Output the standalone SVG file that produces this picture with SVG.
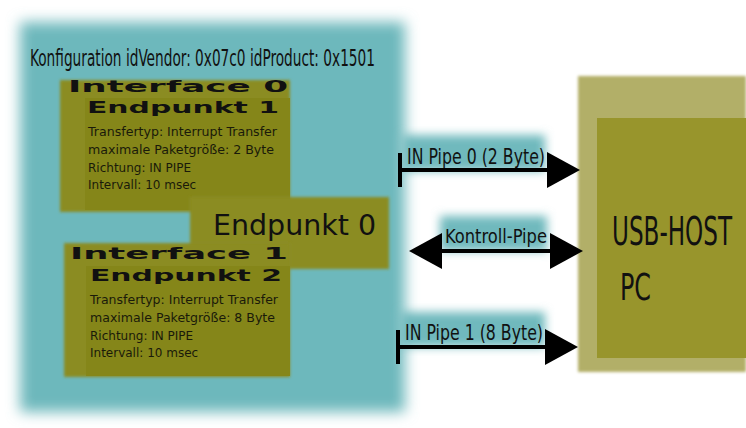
<svg xmlns="http://www.w3.org/2000/svg" width="746" height="428" viewBox="0 0 746 428">
  <defs>
    <filter id="bigBlur" x="-10%" y="-10%" width="120%" height="120%">
      <feGaussianBlur stdDeviation="7"/>
    </filter>
    <filter id="softBlur" x="-5%" y="-5%" width="110%" height="110%">
      <feGaussianBlur stdDeviation="1.5"/>
    </filter>
    <filter id="glow" x="-20%" y="-40%" width="140%" height="180%">
      <feGaussianBlur stdDeviation="5"/>
    </filter>
    <marker id="arrowHead" markerUnits="userSpaceOnUse" markerWidth="34" markerHeight="38" refX="0" refY="18" orient="auto-start-reverse" overflow="visible">
      <path d="M0,0 L33,18 L0,36 Z" fill="#000"/>
    </marker>
    <marker id="bar" markerUnits="userSpaceOnUse" markerWidth="6" markerHeight="36" refX="0" refY="17" orient="auto" overflow="visible">
      <rect x="-2" y="0" width="4" height="34" fill="#000"/>
    </marker>
  </defs>
  <style>
    .cond { font-family: "DejaVu Sans Condensed", "DejaVu Sans", "Liberation Sans", sans-serif; font-stretch: condensed; fill: #111; }
    .reg { font-family: "DejaVu Sans", "Liberation Sans", sans-serif; fill: #111; }
    .wide { font-family: "DejaVu Sans", "Liberation Sans", sans-serif; font-weight: bold; fill: #111; }
    .detail { font-family: "DejaVu Sans", "Liberation Sans", sans-serif; font-size: 12px; fill: #1a1a0a; }
    .olive { fill: #8b8c22; }
    .oliveIn { fill: #858619; }
    .pipe { stroke: #000; stroke-width: 4; fill: none; }
    .glowbox { fill: #6fb9bd; }
  </style>
  <rect width="746" height="428" fill="#fff"/>

  <g id="konfiguration">
    <rect x="20" y="22" width="385" height="390" fill="#6db8bc" filter="url(#bigBlur)"/>
    <text class="cond" transform="translate(30 66) scale(1 1.2)" x="0" y="0" font-size="19" textLength="345" lengthAdjust="spacingAndGlyphs">Konfiguration idVendor: 0x07c0 idProduct: 0x1501</text>
  </g>

  <g id="interface0">
    <rect class="olive" x="60" y="80" width="230" height="132" filter="url(#softBlur)"/>
    <rect class="oliveIn" x="85" y="98" width="205" height="112"/>
    <text class="wide" x="68" y="92" font-size="15" textLength="220" lengthAdjust="spacingAndGlyphs">Interface 0</text>
    <text class="wide" x="87" y="113" font-size="15" textLength="192" lengthAdjust="spacingAndGlyphs">Endpunkt 1</text>
    <text class="detail" x="88" y="136" textLength="189" lengthAdjust="spacingAndGlyphs">Transfertyp: Interrupt Transfer</text>
    <text class="detail" x="88" y="154" textLength="186" lengthAdjust="spacingAndGlyphs">maximale Paketgröße: 2 Byte</text>
    <text class="detail" x="88" y="172">Richtung: IN PIPE</text>
    <text class="detail" x="88" y="189">Intervall: 10 msec</text>
  </g>

  <g id="endpunkt0">
    <rect class="olive" x="190" y="197" width="199" height="72" filter="url(#softBlur)"/>
    <text class="reg" x="213" y="235" font-size="28" textLength="163" lengthAdjust="spacingAndGlyphs">Endpunkt 0</text>
  </g>

  <g id="interface1">
    <rect class="olive" x="64" y="243" width="226" height="134" filter="url(#softBlur)"/>
    <rect class="oliveIn" x="86" y="266" width="204" height="110"/>
    <text class="wide" x="70" y="259" font-size="15" textLength="218" lengthAdjust="spacingAndGlyphs">Interface 1</text>
    <text class="wide" x="90" y="281" font-size="15" textLength="192" lengthAdjust="spacingAndGlyphs">Endpunkt 2</text>
    <text class="detail" x="90" y="304" textLength="188" lengthAdjust="spacingAndGlyphs">Transfertyp: Interrupt Transfer</text>
    <text class="detail" x="90" y="322" textLength="185" lengthAdjust="spacingAndGlyphs">maximale Paketgröße: 8 Byte</text>
    <text class="detail" x="90" y="340">Richtung: IN PIPE</text>
    <text class="detail" x="90" y="357">Intervall: 10 msec</text>
  </g>

  <g id="usb-host">
    <rect x="578" y="76" width="168" height="296" fill="#b2af67" filter="url(#softBlur)"/>
    <rect x="597" y="118" width="149" height="240" fill="#98952c"/>
    <text class="cond" transform="translate(612 245) scale(1 1.5)" x="0" y="0" font-size="26" textLength="120" lengthAdjust="spacingAndGlyphs">USB-HOST</text>
    <text class="cond" transform="translate(620 300) scale(1 1.4)" x="0" y="0" font-size="27" textLength="31" lengthAdjust="spacingAndGlyphs">PC</text>
  </g>

  <g id="connectors">
    <g id="pipe0">
      <rect class="glowbox" x="402" y="135" width="143" height="36" filter="url(#glow)"/>
      <line class="pipe" x1="400" y1="170" x2="547" y2="170" marker-start="url(#bar)" marker-end="url(#arrowHead)"/>
      <text class="cond" transform="translate(407 164) scale(1 1.15)" x="0" y="0" font-size="19" textLength="138" lengthAdjust="spacingAndGlyphs">IN Pipe 0 (2 Byte)</text>
    </g>
    <g id="kontroll-pipe">
      <rect class="glowbox" x="440" y="216" width="107" height="35" filter="url(#glow)"/>
      <line class="pipe" x1="442" y1="251" x2="550" y2="251" marker-start="url(#arrowHead)" marker-end="url(#arrowHead)"/>
      <text class="cond" transform="translate(445 243) scale(1 1.15)" x="0" y="0" font-size="17" textLength="102" lengthAdjust="spacingAndGlyphs">Kontroll-Pipe</text>
    </g>
    <g id="pipe1">
      <rect class="glowbox" x="400" y="312" width="145" height="35" filter="url(#glow)"/>
      <line class="pipe" x1="398" y1="347" x2="545" y2="347" marker-start="url(#bar)" marker-end="url(#arrowHead)"/>
      <text class="cond" transform="translate(405 340) scale(1 1.15)" x="0" y="0" font-size="19" textLength="138" lengthAdjust="spacingAndGlyphs">IN Pipe 1 (8 Byte)</text>
    </g>
  </g>
</svg>
